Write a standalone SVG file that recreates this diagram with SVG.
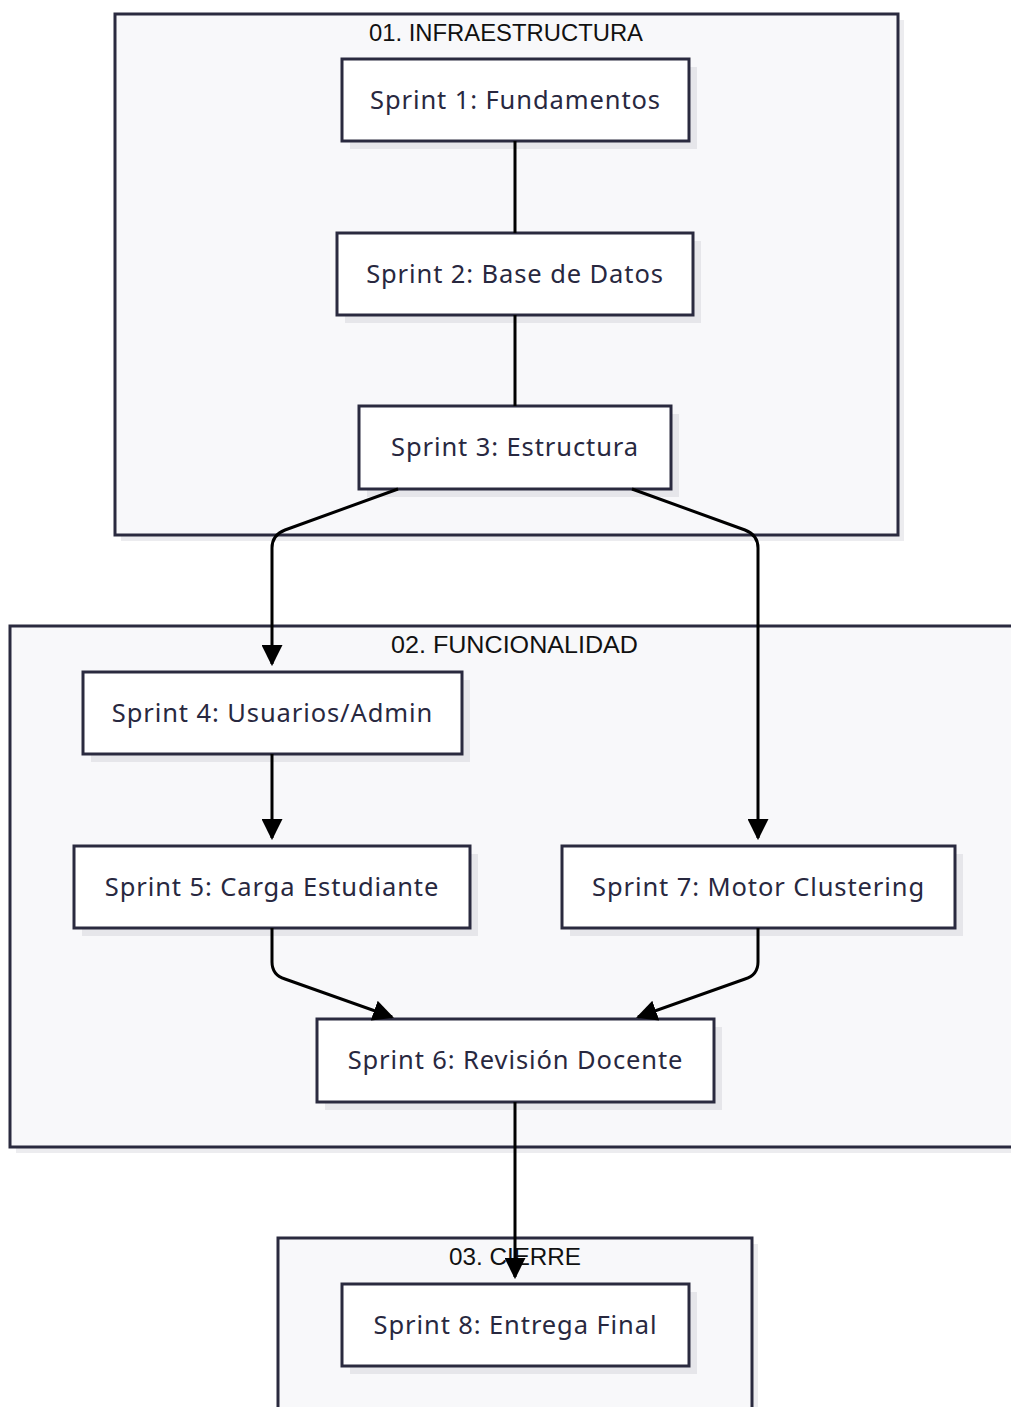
<svg xmlns="http://www.w3.org/2000/svg" width="1011" height="1407" viewBox="0 0 1011 1407">
<style>
.cl{fill:#f8f8fa;stroke:#2a2a3f;stroke-width:3}
.cs{fill:#ececef}
.nd{fill:#ffffff;stroke:#2a2a3f;stroke-width:3}
.ns{fill:#e6e6ea}
.nt{font-family:"Noto Sans","Open Sans",sans-serif;font-size:25.5px;letter-spacing:0.9px;fill:#28283f;text-anchor:middle;dominant-baseline:central}
.ct{font-family:"Liberation Sans",Arial,sans-serif;font-size:24px;fill:#111;text-anchor:middle;dominant-baseline:central}
.ed{fill:none;stroke:#000;stroke-width:3}
</style>
<defs>
<marker id="ar" viewBox="0 0 10 10" refX="9" refY="5" markerWidth="7" markerHeight="7" orient="auto" markerUnits="strokeWidth">
<path d="M0,0 L10,5 L0,10 z" fill="#000"/>
</marker>
</defs>
<rect width="1011" height="1407" fill="#ffffff"/>
<g id="cluster-infraestructura">
<rect class="cs" x="121" y="20" width="783" height="521"/>
<rect class="cl" x="115" y="14" width="783" height="521"/>
<text class="ct" x="506" y="32.5" textLength="274" lengthAdjust="spacingAndGlyphs">01. INFRAESTRUCTURA</text>
</g>
<g id="cluster-funcionalidad">
<rect class="cs" x="16" y="632" width="1010" height="521"/>
<rect class="cl" x="10" y="626" width="1010" height="521"/>
<text class="ct" x="514.5" y="644.5" textLength="247" lengthAdjust="spacingAndGlyphs">02. FUNCIONALIDAD</text>
</g>
<g id="cluster-cierre">
<rect class="cs" x="284" y="1244" width="474" height="200"/>
<rect class="cl" x="278" y="1238" width="474" height="200"/>
<text class="ct" x="515" y="1256.5" textLength="132" lengthAdjust="spacingAndGlyphs">03. CIERRE</text>
</g>
<g id="node-s1">
<rect class="ns" x="350" y="67" width="347" height="82"/>
<rect class="nd" x="342" y="59" width="347" height="82"/>
<text class="nt" x="515.5" y="99">Sprint 1: Fundamentos</text>
</g>
<g id="node-s2">
<rect class="ns" x="345" y="241" width="356" height="82"/>
<rect class="nd" x="337" y="233" width="356" height="82"/>
<text class="nt" x="515" y="273">Sprint 2: Base de Datos</text>
</g>
<g id="node-s3">
<rect class="ns" x="367" y="414" width="312" height="83"/>
<rect class="nd" x="359" y="406" width="312" height="83"/>
<text class="nt" x="515" y="446">Sprint 3: Estructura</text>
</g>
<g id="node-s4">
<rect class="ns" x="91" y="680" width="379" height="82"/>
<rect class="nd" x="83" y="672" width="379" height="82"/>
<text class="nt" x="272.5" y="712">Sprint 4: Usuarios/Admin</text>
</g>
<g id="node-s5">
<rect class="ns" x="82" y="854" width="396" height="82"/>
<rect class="nd" x="74" y="846" width="396" height="82"/>
<text class="nt" x="272" y="886">Sprint 5: Carga Estudiante</text>
</g>
<g id="node-s7">
<rect class="ns" x="570" y="854" width="393" height="82"/>
<rect class="nd" x="562" y="846" width="393" height="82"/>
<text class="nt" x="758.5" y="886">Sprint 7: Motor Clustering</text>
</g>
<g id="node-s6">
<rect class="ns" x="325" y="1027" width="397" height="83"/>
<rect class="nd" x="317" y="1019" width="397" height="83"/>
<text class="nt" x="515.5" y="1059">Sprint 6: Revisión Docente</text>
</g>
<g id="node-s8">
<rect class="ns" x="350" y="1292" width="347" height="82"/>
<rect class="nd" x="342" y="1284" width="347" height="82"/>
<text class="nt" x="515.5" y="1324">Sprint 8: Entrega Final</text>
</g>
<g id="connectors">
<path class="ed" d="M515,141 L515,233"/>
<path class="ed" d="M515,315 L515,406"/>
<path class="ed" marker-end="url(#ar)" d="M398,489 L285,530 Q272,535 272,548 L272,664"/>
<path class="ed" marker-end="url(#ar)" d="M632,489 L745,530 Q758,535 758,548 L758,838"/>
<path class="ed" marker-end="url(#ar)" d="M272,754 L272,838"/>
<path class="ed" marker-end="url(#ar)" d="M272,928 L272,962 Q272,975 285,979 L392,1017"/>
<path class="ed" marker-end="url(#ar)" d="M758,928 L758,962 Q758,975 745,979 L638,1017"/>
<path class="ed" marker-end="url(#ar)" d="M515,1102 L515,1277"/>
</g>
</svg>
